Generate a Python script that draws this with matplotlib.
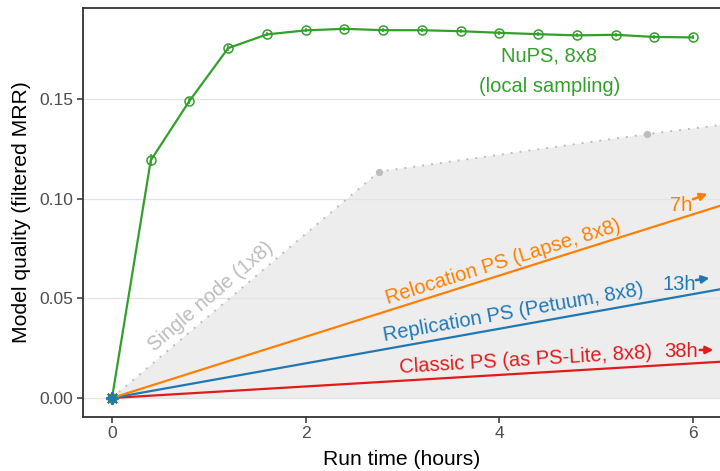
import matplotlib
matplotlib.use("Agg")
import matplotlib.pyplot as plt

plt.rcParams['font.family'] = ['Liberation Sans', 'DejaVu Sans']

# ---- data ----
nups_x = [0, 0.4, 0.8, 1.2, 1.6, 2.0, 2.4, 2.8, 3.2, 3.6, 4.0, 4.4, 4.8, 5.2, 5.6, 6.0]
nups_y = [0.0, 0.1193, 0.1492, 0.1757, 0.1826, 0.1846, 0.1854, 0.1847, 0.1847,
          0.1842, 0.1834, 0.1827, 0.1821, 0.1824, 0.1813, 0.1811]
nups_err = [0.0, 0.003, 0.0015, 0.0015, 0.001, 0.001, 0.001, 0.001, 0.001,
            0.001, 0.001, 0.001, 0.001, 0.001, 0.001, 0.001]

single_x = [0, 2.76, 5.52, 8.28]
single_y = [0.0, 0.1137, 0.1325, 0.149]

reloc_x = [0, 7]
reloc_y = [0.0, 0.1076]
repl_x = [0, 13]
repl_y = [0.0, 0.113]
classic_x = [0, 38]
classic_y = [0.0, 0.110]

x_ticks = [0, 2, 4, 6]
y_ticks = [0.00, 0.05, 0.10, 0.15]

GREEN = '#33a02c'
ORANGE = '#ff7f00'
BLUE = '#1f78b4'
RED = '#e31a1c'
GRAY = '#bdbdbd'

fig = plt.figure(figsize=(7.2, 4.71), dpi=100)
ax = fig.add_axes([83/720, 1-416.7/471, (720-83)/720, (416.7-8.3)/471])

ax.set_xlim(-0.2995, 6.279)
ax.set_ylim(-0.0094, 0.1957)

# grid
ax.set_axisbelow(True)
ax.grid(axis='y', color='#e3e3e3', linewidth=0.9, zorder=0.5)
ax.grid(axis='x', visible=False)

# single node
ax.fill_between(single_x, 0, single_y, color='#ededed', zorder=0.3, linewidth=0)
ax.plot(single_x, single_y, color=GRAY, linestyle=(0, (1, 3.6)), linewidth=1.4,
        marker='o', markersize=4.2, markevery=[1, 2, 3], zorder=2)

# PS lines
for xs, ys, c in [(classic_x, classic_y, RED), (repl_x, repl_y, BLUE), (reloc_x, reloc_y, ORANGE)]:
    ax.plot(xs, ys, color=c, linewidth=1.6, zorder=3)

# origin asterisks
for c in [RED, ORANGE, GREEN, BLUE]:
    ax.plot([classic_x[0]], [classic_y[0]], linestyle='none', marker=(8, 2, 0),
            markersize=9, markeredgecolor=c, markeredgewidth=1.2, zorder=5)

# NuPS
ax.errorbar(nups_x, nups_y, yerr=nups_err, color=GREEN, linewidth=1.6,
            marker='o', markersize=6.5, markerfacecolor='none', markeredgewidth=1.1,
            elinewidth=1.1, capsize=0, zorder=4)

# labels
fs = 14.5
ax.text(4.513, 0.1718, 'NuPS, 8x8', color=GREEN, fontsize=fs, ha='center', va='center')
ax.text(4.523, 0.1562, '(local sampling)', color=GREEN, fontsize=fs, ha='center', va='center')
ax.text(1.022, 0.0512, 'Single node (1x8)', color=GRAY, fontsize=fs, ha='center',
        va='center', rotation=40.5, rotation_mode='anchor')
ax.text(4.038, 0.0683, 'Relocation PS (Lapse, 8x8)', color=ORANGE, fontsize=fs,
        ha='center', va='center', rotation=17.5, rotation_mode='anchor')
ax.text(4.141, 0.0427, 'Replication PS (Petuum, 8x8)', color=BLUE, fontsize=fs,
        ha='center', va='center', rotation=10.1, rotation_mode='anchor')
ax.text(4.276, 0.0191, 'Classic PS (as PS-Lite, 8x8)', color=RED, fontsize=fs,
        ha='center', va='center', rotation=3.4, rotation_mode='anchor')

for lbl, xt, yt, c, ax0, ay0, ax1, ay1 in [
        ('7h', 5.875, 0.0969, ORANGE, 6.0, 0.0998, 6.15, 0.1026),
        ('13h', 5.855, 0.0568, BLUE, 6.03, 0.0592, 6.17, 0.0602),
        ('38h', 5.872, 0.0231, RED, 6.07, 0.0241, 6.21, 0.0241)]:
    ax.text(xt, yt, lbl, color=c, fontsize=fs, ha='center', va='center')
    ax.annotate('', xy=(ax1, ay1), xytext=(ax0, ay0),
                arrowprops=dict(arrowstyle='-|>', color=c, lw=1.8, mutation_scale=11,
                                shrinkA=0, shrinkB=0))

# axes styling
for s in ['left', 'bottom', 'top']:
    ax.spines[s].set_color('#333333')
    ax.spines[s].set_linewidth(1.3)
ax.spines['right'].set_visible(False)

ax.set_xticks(x_ticks)
ax.set_xticklabels([str(v) for v in x_ticks])
ax.set_yticks(y_ticks)
ax.set_yticklabels(['%.2f' % v for v in y_ticks])
ax.tick_params(axis='both', colors='#333333', length=4, width=1.1,
               labelsize=12.5, labelcolor='#4d4d4d', pad=3)

ax.set_xlabel('Run time (hours)', fontsize=15.2, color='black', labelpad=6)
ax.set_ylabel('Model quality (filtered MRR)', fontsize=15.2, color='black', labelpad=6)

fig.savefig('out.png', dpi=100)
